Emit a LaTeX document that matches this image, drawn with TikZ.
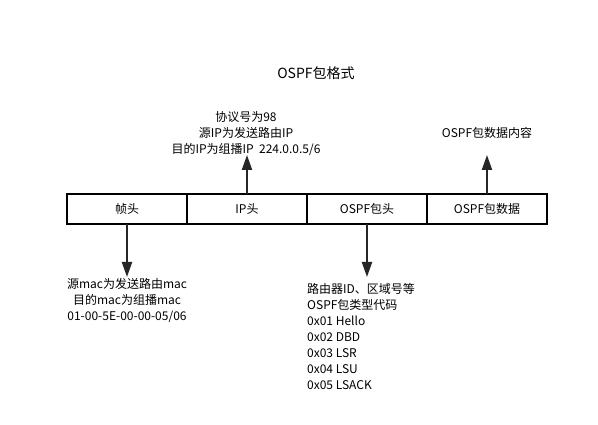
\documentclass[tikz,border=0pt]{standalone}
\usepackage{fontspec}
\setmainfont{Noto Sans CJK SC}
\usetikzlibrary{arrows.meta,positioning}

\tikzstyle{obj1}=[black!85, line width = 2pt, line join=round, line cap=butt]
\tikzstyle{cell}=[draw=black, line width=1.2pt, minimum width=120pt, minimum height=30pt, inner sep=0pt, outer sep=0pt, font=\fontsize{12}{16}\selectfont]
\tikzstyle{info}=[inner sep=0pt, font=\fontsize{12}{16}\selectfont]
\tikzstyle{pointer}=[obj1, -{Triangle[length=15pt,width=10pt]}]

\begin{document}
\begin{tikzpicture}[x=1pt, y=-1pt]

	\def\top{194} % top of the row
	\def\up{155}  % where the upper pointers end
	\def\dn{277}  % where the lower pointers end

	\useasboundingbox[fill=white] (0,0) rectangle (598,425);

	% title
	\node[info, font=\fontsize{14}{16}\selectfont] (title) at (316,73) {OSPF包格式};

	% the row of cells, left to right
	\node[cell, anchor=north west] (frame) at (67,\top) {帧头};
	\node[cell, right=0pt of frame] (iphead) {IP头};
	\node[cell, right=0pt of iphead] (ospfhead) {OSPF包头};
	\node[cell, right=0pt of ospfhead] (ospfdata) {OSPF包数据};

	% texts above the row
	\node[info, align=center] (iptext) at (246,134) {协议号为98\\源IP为发送路由IP\\目的IP为组播IP\ \ 224.0.0.5/6};
	\node[info] (datatext) at (487,133) {OSPF包数据内容};

	% texts below the row
	\node[info, align=center] (mactext) at (127,301) {源mac为发送路由mac\\目的mac为组播mac\\01-00-5E-00-00-05/06};
	\node[info, align=left, anchor=north west] (hdrtext) at (307,283) {路由器ID、区域号等\\OSPF包类型代码\\0x01 Hello\\0x02 DBD\\0x03 LSR\\0x04 LSU\\0x05 LSACK};

	% pointer ends
	\coordinate (iptip) at (iphead.north |- 0,\up);
	\coordinate (datatip) at (ospfdata.north |- 0,\up);
	\coordinate (mactip) at (frame.south |- 0,\dn);
	\coordinate (hdrtip) at (ospfhead.south |- 0,\dn);

	% pointers
	\draw[pointer] (iphead.north) -- (iptip);
	\draw[pointer] (ospfdata.north) -- (datatip);
	\draw[pointer] (frame.south) -- (mactip);
	\draw[pointer] (ospfhead.south) -- (hdrtip);

\end{tikzpicture}
\end{document}
